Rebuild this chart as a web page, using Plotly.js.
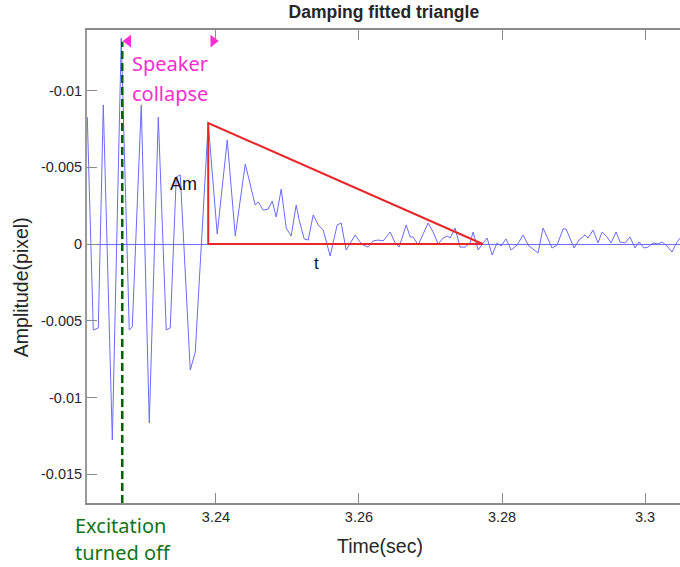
<!DOCTYPE html>
<html>
<head>
<meta charset="utf-8">
<script src="https://cdn.plot.ly/plotly-3.0.1.min.js"></script>
<style>
  html, body { margin: 0; padding: 0; background: #ffffff; }
  #chart { width: 680px; height: 567px; }
</style>
</head>
<body>
<div id="chart"></div>
<script>
// Measured displacement signal (time in seconds, amplitude in pixels)
const timeSec = [
  3.22201, 3.22285, 3.22355, 3.22425, 3.22551, 3.22676, 3.22788, 3.22830,
  3.22956, 3.23068, 3.23194, 3.23305, 3.23361, 3.23445, 3.23501, 3.23641,
  3.23711, 3.23892, 3.24018, 3.24158, 3.24270, 3.24410, 3.24549, 3.24591,
  3.24661, 3.24731, 3.24787, 3.24843, 3.24913, 3.24983, 3.25052, 3.25122,
  3.25164, 3.25234, 3.25290, 3.25360, 3.25430, 3.25500, 3.25597, 3.25695,
  3.25751, 3.25821, 3.25947, 3.26003, 3.26059, 3.26129, 3.26198, 3.26268,
  3.26338, 3.26436, 3.26506, 3.26562, 3.26660, 3.26716, 3.26758, 3.26827,
  3.26967, 3.27037, 3.27107, 3.27177, 3.27233, 3.27275, 3.27344, 3.27414,
  3.27484, 3.27554, 3.27596, 3.27666, 3.27736, 3.27792, 3.27862, 3.27931,
  3.27987, 3.28057, 3.28127, 3.28211, 3.28295, 3.28365, 3.28504, 3.28574,
  3.28700, 3.28770, 3.28854, 3.28896, 3.29008, 3.29078, 3.29161, 3.29203,
  3.29273, 3.29343, 3.29399, 3.29469, 3.29525, 3.29595, 3.29651, 3.29720,
  3.29790, 3.29860, 3.29916, 3.29986, 3.30042, 3.30112, 3.30182, 3.30238,
  3.30307, 3.30377, 3.30447, 3.30517
];
const amplitude = [
  0.00827, -0.00560, -0.00547, 0.00906, -0.01277, 0.01342, -0.00560, -0.00541,
  0.00906, -0.01166, 0.00827, -0.00560, -0.00547, 0.00436, 0.00450, -0.00821,
  -0.00704, 0.00788, 0.00065, 0.00678, 0.00052, 0.00521, 0.00254, 0.00274,
  0.00221, 0.00228, 0.00280, 0.00176, 0.00358, 0.00104, 0.00052, 0.00254,
  0.00156, 0.00033, 0.00026, 0.00189, 0.00124, 0.00091, -0.00078, 0.00124,
  0.00137, -0.00039, 0.00059, 0.00020, -0.00007, -0.00020, 0.00020, 0.00026,
  0.00020, 0.00078, 0.00007, -0.00020, 0.00124, 0.00046, 0.00046, -0.00007,
  0.00137, 0.00078, 0.00000, 0.00039, 0.00052, 0.00039, 0.00104, -0.00020,
  -0.00020, 0.00007, 0.00078, -0.00039, 0.00007, 0.00039, -0.00072, 0.00007,
  -0.00013, 0.00033, -0.00039, -0.00007, 0.00059, -0.00007, -0.00059, 0.00104,
  -0.00026, -0.00007, 0.00098, 0.00098, -0.00026, 0.00026, 0.00059, 0.00039,
  0.00091, 0.00007, 0.00078, 0.00046, 0.00007, 0.00078, 0.00013, 0.00007,
  0.00046, -0.00026, 0.00013, -0.00026, -0.00020, 0.00007, 0.00000, 0.00013,
  -0.00013, -0.00052, 0.00013, 0.00052
];

// Fitted damping triangle: peak amplitude Am at the start, decaying to zero after t
const triangleT = [3.23892, 3.23892, 3.27730, 3.23892];
const triangleA = [0, 0.00788, 0, 0];

// Event markers
const excitationOffT = 3.22690;
const collapseArrowT = [3.22774, 3.23962];
const collapseArrowA = [0.01322, 0.01322];

// Axis ticks
const xTickVals = [3.24, 3.26, 3.28, 3.3];
const xTickText = ['3.24', '3.26', '3.28', '3.3'];
const yTickVals = [0.01, 0.005, 0, -0.005, -0.01, -0.015];
const yTickText = ['-0.01', '-0.005', '0', '-0.005', '-0.01', '-0.015'];

const xRange = [3.22197, 3.30489];
const yRange = [-0.01687, 0.01394];

const axisFont = { family: 'Liberation Sans, Arial, sans-serif', size: 14.5, color: '#262626' };
const labelFont = { family: 'Liberation Sans, Arial, sans-serif', size: 19.5, color: '#262626' };
const calloutFont = { family: 'Noto Sans, Open Sans, sans-serif', size: 20 };

const traces = [
  {
    x: timeSec, y: amplitude, type: 'scatter', mode: 'lines',
    line: { color: '#6a6aff', width: 1 },
    hoverinfo: 'skip', showlegend: false
  },
  {
    x: triangleT, y: triangleA, type: 'scatter', mode: 'lines',
    line: { color: '#e8262a', width: 2 },
    hoverinfo: 'skip', showlegend: false
  },
  {
    x: collapseArrowT, y: collapseArrowA, type: 'scatter', mode: 'markers',
    marker: { symbol: ['triangle-left', 'triangle-right'], size: 11, color: '#ff2ccf' },
    cliponaxis: false, hoverinfo: 'skip', showlegend: false
  }
];

const layout = {
  width: 680, height: 567,
  margin: { l: 87, r: 0, t: 30, b: 64 },
  paper_bgcolor: '#ffffff', plot_bgcolor: '#ffffff',
  showlegend: false,
  title: {
    text: '<b>Damping fitted triangle</b>',
    font: { family: 'Liberation Sans, Arial, sans-serif', size: 17.5, color: '#262626' },
    x: 0.5645, xanchor: 'center', y: 0.979, yanchor: 'middle'
  },
  xaxis: {
    range: xRange, showgrid: false, zeroline: false,
    showline: true, linecolor: '#8a8a8a', linewidth: 2, mirror: 'ticks',
    ticks: 'inside', ticklen: 10, tickwidth: 1, tickcolor: '#8a8a8a',
    tickvals: xTickVals, ticktext: xTickText, tickfont: axisFont
  },
  yaxis: {
    range: yRange, showgrid: false,
    zeroline: true, zerolinecolor: '#6a6aff', zerolinewidth: 1,
    showline: true, linecolor: '#9a9a9a', linewidth: 2,
    ticks: 'inside', ticklen: 10, tickwidth: 1, tickcolor: '#8a8a8a',
    tickvals: yTickVals, ticktext: yTickText, tickfont: axisFont
  },
  shapes: [
    {
      type: 'line', xref: 'x', yref: 'paper',
      x0: excitationOffT, x1: excitationOffT, y0: 0, y1: 0.975,
      line: { color: '#006400', width: 2.5, dash: '8px,4px' }
    }
  ],
  annotations: [
    { text: 'Speaker', xref: 'x', yref: 'y', x: 3.22800, y: 0.01179,
      xanchor: 'left', yanchor: 'middle', showarrow: false,
      font: Object.assign({ color: '#ff2ccf' }, calloutFont) },
    { text: 'collapse', xref: 'x', yref: 'y', x: 3.22800, y: 0.00983,
      xanchor: 'left', yanchor: 'middle', showarrow: false,
      font: Object.assign({ color: '#ff2ccf' }, calloutFont) },
    { text: 'Excitation', xref: 'paper', yref: 'paper', x: -0.0230, y: -0.0486,
      xanchor: 'left', yanchor: 'middle', showarrow: false,
      font: Object.assign({ color: '#137313' }, calloutFont) },
    { text: 'turned off', xref: 'paper', yref: 'paper', x: -0.0230, y: -0.1057,
      xanchor: 'left', yanchor: 'middle', showarrow: false,
      font: Object.assign({ color: '#137313' }, calloutFont) },
    { text: 'Am', xref: 'x', yref: 'y', x: 3.23543, y: 0.00391,
      xanchor: 'center', yanchor: 'middle', showarrow: false,
      font: { family: 'Liberation Sans, Arial, sans-serif', size: 18, color: '#111111' } },
    { text: 't', xref: 'x', yref: 'y', x: 3.25402, y: -0.00124,
      xanchor: 'center', yanchor: 'middle', showarrow: false,
      font: { family: 'Liberation Sans, Arial, sans-serif', size: 17, color: '#111111' } },
    { text: 'Time(sec)', xref: 'paper', yref: 'paper', x: 0.4943, y: -0.0909,
      xanchor: 'center', yanchor: 'middle', showarrow: false, font: labelFont },
    { text: 'Amplitude(pixel)', xref: 'paper', yref: 'paper', x: -0.111, y: 0.4567,
      xanchor: 'center', yanchor: 'middle', textangle: -90, showarrow: false, font: labelFont }
  ]
};

Plotly.newPlot('chart', traces, layout, { staticPlot: true, displayModeBar: false });
</script>
</body>
</html>
